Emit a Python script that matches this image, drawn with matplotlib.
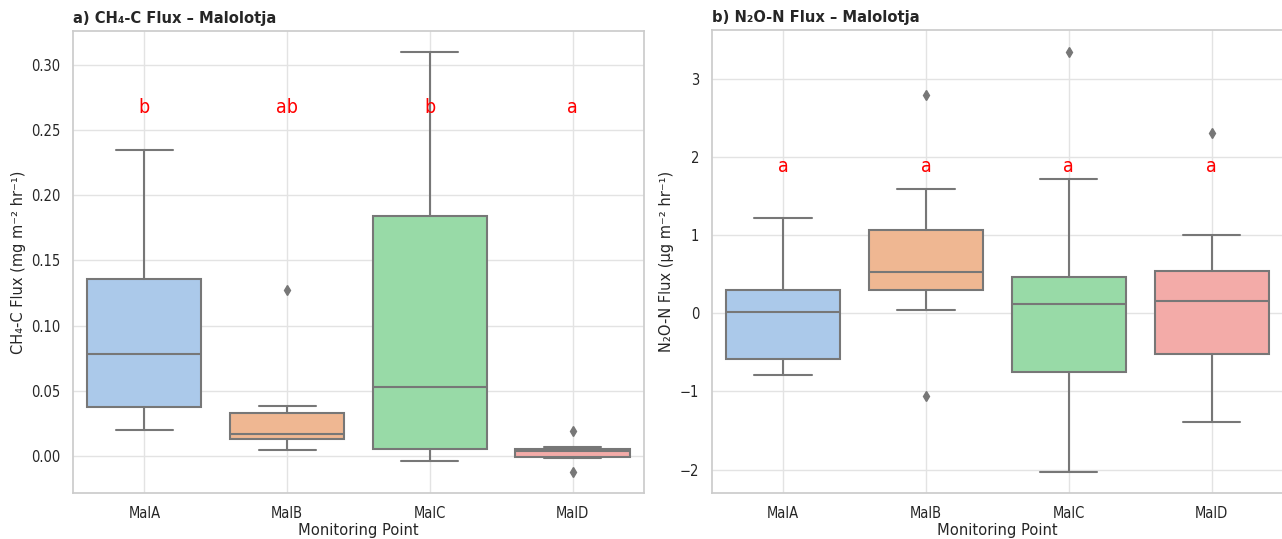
import matplotlib
matplotlib.use("Agg")
import matplotlib.pyplot as plt
import seaborn as sns

sns.set_theme(style="whitegrid")
plt.rcParams['font.family'] = ['DejaVu Sans']
plt.rcParams['font.stretch'] = 'condensed'

categories = ["MalA", "MalB", "MalC", "MalD"]

# CH4-C flux box statistics (mg m-2 hr-1)
ch4_q1 = [0.0377, 0.0130, 0.0051, -0.0010]
ch4_med = [0.0778, 0.0171, 0.0526, 0.0040]
ch4_q3 = [0.1358, 0.0327, 0.1844, 0.0056]
ch4_wlo = [0.0201, 0.0043, -0.0038, -0.0018]
ch4_whi = [0.2350, 0.0385, 0.3100, 0.0071]
ch4_fliers = [[], [0.127], [], [0.0191, -0.0125]]
ch4_letters = ["b", "ab", "b", "a"]

# N2O-N flux box statistics (ug m-2 hr-1)
n2o_q1 = [-0.590, 0.296, -0.752, -0.520]
n2o_med = [0.015, 0.529, 0.121, 0.160]
n2o_q3 = [0.300, 1.059, 0.463, 0.542]
n2o_wlo = [-0.796, 0.042, -2.033, -1.393]
n2o_whi = [1.213, 1.585, 1.717, 1.002]
n2o_fliers = [[], [2.787, -1.059], [3.344], [2.300]]
n2o_letters = ["a", "a", "a", "a"]

pal = [sns.desaturate(c, 0.75) for c in sns.color_palette("pastel", 4)]
gray = "#777777"

fig = plt.figure(figsize=(12.82, 5.39), dpi=100)
ax1 = fig.add_axes([0.0569, 0.0853, 0.4454, 0.8571])
ax2 = fig.add_axes([0.5550, 0.0853, 0.4460, 0.8590])


def draw(ax, q1, med, q3, wlo, whi, fliers, letters, letter_y, ylim, ylabel, title):
    stats = []
    for i, c in enumerate(categories):
        stats.append(dict(label=c, q1=q1[i], med=med[i], q3=q3[i],
                          whislo=wlo[i], whishi=whi[i], fliers=fliers[i]))
    bp = ax.bxp(stats, positions=range(len(categories)), widths=0.8,
                patch_artist=True, capwidths=0.4,
                boxprops=dict(edgecolor=gray, linewidth=1.5),
                medianprops=dict(color=gray, linewidth=1.5),
                whiskerprops=dict(color=gray, linewidth=1.5),
                capprops=dict(color=gray, linewidth=1.5),
                flierprops=dict(marker="d", markerfacecolor=gray,
                                markeredgecolor=gray, markersize=5))
    for patch, col in zip(bp["boxes"], pal):
        patch.set_facecolor(col)
    for i, t in enumerate(letters):
        ax.text(i, letter_y, t, color="red", fontsize=14,
                ha="center", va="center")
    ax.set_xlim(-0.5, len(categories) - 0.5)
    ax.set_ylim(*ylim)
    ax.set_xticks(range(len(categories)))
    ax.set_xticklabels(categories)
    ax.tick_params(labelsize=10.5, pad=3)
    ax.set_xlabel("Monitoring Point", fontsize=11.8, labelpad=2)
    ax.set_ylabel(ylabel, fontsize=11.7, labelpad=4)
    ax.set_title(title, loc="left", fontsize=11.8, fontweight="bold")
    ax.grid(True, color="#e3e3e3")
    for s in ax.spines.values():
        s.set_color("#cccccc")


draw(ax1, ch4_q1, ch4_med, ch4_q3, ch4_wlo, ch4_whi, ch4_fliers, ch4_letters,
     0.267, (-0.0285, 0.326), "CH\u2084-C Flux (mg m\u207b\u00b2 hr\u207b\u00b9)",
     "a) CH\u2084-C Flux \u2013 Malolotja")
ax1.set_yticks([0.0, 0.05, 0.10, 0.15, 0.20, 0.25, 0.30])
ax1.set_yticklabels(["0.00", "0.05", "0.10", "0.15", "0.20", "0.25", "0.30"])

draw(ax2, n2o_q1, n2o_med, n2o_q3, n2o_wlo, n2o_whi, n2o_fliers, n2o_letters,
     1.88, (-2.30, 3.62), "N\u2082O-N Flux (\u00b5g m\u207b\u00b2 hr\u207b\u00b9)",
     "b) N\u2082O-N Flux \u2013 Malolotja")
ax2.set_yticks([-2, -1, 0, 1, 2, 3])

fig.savefig("out.png", dpi=100)
